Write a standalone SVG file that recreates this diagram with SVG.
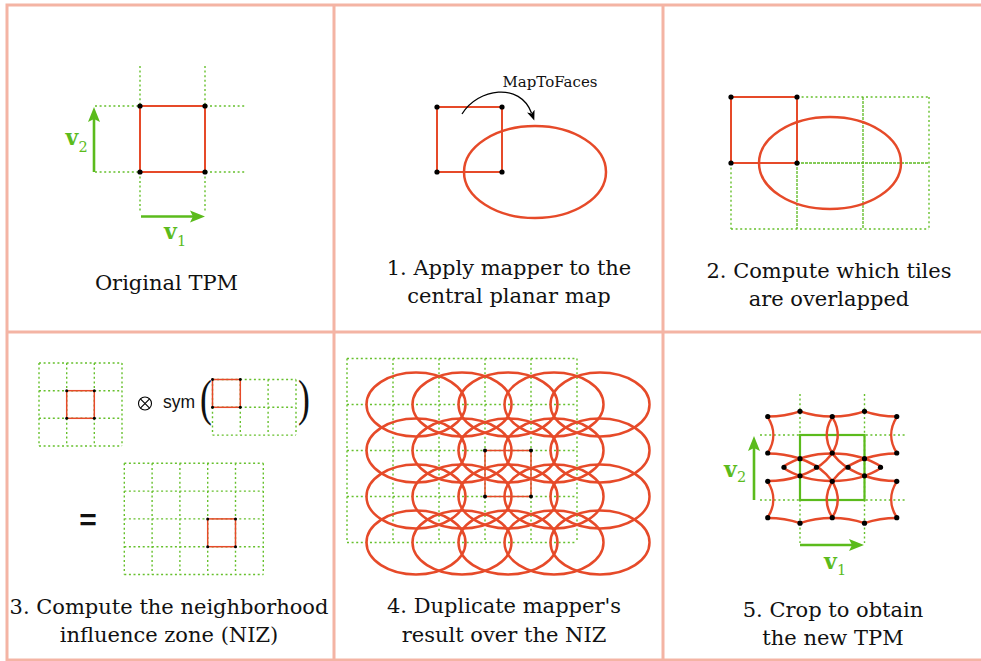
<svg xmlns="http://www.w3.org/2000/svg" width="981" height="661" viewBox="0 0 981 661">
<style>
.bd{fill:none;stroke:#f4b4a4;stroke-width:3}
.sq{fill:none;stroke:#e64a29;stroke-width:2}
.sqs{fill:none;stroke:#e64a29;stroke-width:1.5}
.ell{fill:none;stroke:#e64a29;stroke-width:2.5}
.dot{fill:#000}
.grid{fill:none;stroke:#66c02c;stroke-width:1.4;stroke-dasharray:2 2.6}
.gridd{fill:none;stroke:#5cb91f;stroke-width:1.3;stroke-dasharray:3 1}
.garrow{fill:none;stroke:#5bbb1c;stroke-width:2.6}
.gsq{fill:none;stroke:#5bbb1c;stroke-width:2.2}
.cap{font-family:"DejaVu Serif","Liberation Serif",serif;font-size:21px;fill:#111;text-anchor:middle}
.vb{font-family:"DejaVu Serif","Liberation Serif",serif;font-weight:bold;font-size:22px;fill:#5bbb1c}
.vs{font-family:"DejaVu Serif","Liberation Serif",serif;font-size:14.5px;fill:#5bbb1c}
.par{font-family:"Liberation Serif","DejaVu Serif",serif;font-size:51px;fill:#111}
</style>
<defs>
<marker id="gah" markerUnits="userSpaceOnUse" markerWidth="16" markerHeight="14" refX="4" refY="7" orient="auto" viewBox="0 0 16 14">
<path d="M0,1 L15,7 L0,13 L3,7 z" fill="#5bbb1c"/>
</marker>
<marker id="kah" markerUnits="userSpaceOnUse" markerWidth="11" markerHeight="9" refX="2" refY="4.5" orient="auto" viewBox="0 0 11 9">
<path d="M0,0.5 L10,4.5 L0,8.5 L2.5,4.5 z" fill="#000"/>
</marker>
</defs>
<rect width="981" height="661" fill="#fff"/>
<g id="frame">
<rect class="bd" x="7" y="5" width="980" height="655"/>
<line class="bd" x1="334" y1="5" x2="334" y2="660"/>
<line class="bd" x1="663" y1="5" x2="663" y2="660"/>
<line class="bd" x1="7" y1="332" x2="981" y2="332"/>
</g>

<g id="panel-original">
<path class="grid" d="M95 106H245M95 172H245M140 66V212M205 66V212"/>
<rect class="sq" x="140" y="106" width="65" height="66"/>
<circle class="dot" cx="140" cy="106" r="2.6"/><circle class="dot" cx="205" cy="106" r="2.6"/>
<circle class="dot" cx="140" cy="172" r="2.6"/><circle class="dot" cx="205" cy="172" r="2.6"/>
<line class="garrow" x1="94" y1="172" x2="94" y2="118" marker-end="url(#gah)"/>
<line class="garrow" x1="141" y1="216.5" x2="194" y2="216.5" marker-end="url(#gah)"/>
<text class="vb" x="65.5" y="145">v</text><text class="vs" x="78.5" y="152">2</text>
<text class="vb" x="164" y="239">v</text><text class="vs" x="177" y="246">1</text>
<text class="cap" x="166.5" y="290">Original TPM</text>
</g>

<g id="panel-apply">
<rect class="sq" x="437" y="107" width="65" height="65"/>
<ellipse class="ell" cx="535" cy="172" rx="71" ry="46"/>
<circle class="dot" cx="437" cy="107" r="2.6"/><circle class="dot" cx="502" cy="107" r="2.6"/>
<circle class="dot" cx="437" cy="172" r="2.6"/><circle class="dot" cx="502" cy="172" r="2.6"/>
<text x="550" y="87" style="font-family:'DejaVu Serif','Liberation Serif',serif;font-size:15px;fill:#111;text-anchor:middle">MapToFaces</text>
<text class="cap" x="509" y="275">1. Apply mapper to the</text>
<text class="cap" x="509" y="303">central planar map</text>
</g>

<g id="panel-tiles">
<path class="grid" d="M797 97H929M731 229H929M731 163V229M929 97V229"/>
<path class="gridd" d="M797 163H929M863 97V229M797 163V229"/>
<rect class="sq" x="731" y="97" width="66" height="66"/>
<ellipse class="ell" cx="830" cy="163" rx="71" ry="46"/>
<circle class="dot" cx="731" cy="97" r="2.6"/><circle class="dot" cx="797" cy="97" r="2.6"/>
<circle class="dot" cx="731" cy="163" r="2.6"/><circle class="dot" cx="797" cy="163" r="2.6"/>
<text class="cap" x="829" y="278">2. Compute which tiles</text>
<text class="cap" x="829" y="306">are overlapped</text>
</g>

<g id="panel-niz">
<path class="grid" d="M39 363H122M39 390.7H122M39 418.3H122M39 446H122M39 363V446M66.7 363V446M94.3 363V446M122 363V446"/>
<rect class="sqs" x="66.7" y="390.7" width="27.6" height="27.6"/>
<circle class="dot" cx="66.7" cy="390.7" r="1.5"/><circle class="dot" cx="94.3" cy="390.7" r="1.5"/>
<circle class="dot" cx="66.7" cy="418.3" r="1.5"/><circle class="dot" cx="94.3" cy="418.3" r="1.5"/>
<circle cx="145" cy="403.5" r="6.5" fill="none" stroke="#000" stroke-width="1.1"/>
<path d="M140.4 398.9L149.6 408.1M149.6 398.9L140.4 408.1" stroke="#000" stroke-width="1.1"/>
<text x="163" y="408" style="font-family:'Liberation Sans',Arial,sans-serif;font-size:17.5px;fill:#111">sym</text>
<text class="par" transform="translate(200 415) scale(0.7 1)">(</text>
<text class="par" transform="translate(298 415) scale(0.7 1)">)</text>
<path class="grid" d="M212.5 379.5H296M212.5 407.3H296M212.5 435.1H296M212.5 379.5V435.1M240.3 379.5V435.1M268.1 379.5V435.1M296 379.5V435.1"/>
<rect class="sqs" x="212.5" y="379.5" width="27.8" height="27.8"/>
<circle class="dot" cx="212.5" cy="379.5" r="1.4"/><circle class="dot" cx="240.3" cy="379.5" r="1.4"/>
<circle class="dot" cx="212.5" cy="407.3" r="1.5"/><circle class="dot" cx="240.3" cy="407.3" r="1.5"/>
<text x="88" y="530" style="font-family:'Liberation Sans',Arial,sans-serif;font-weight:bold;font-size:30px;fill:#111;text-anchor:middle">=</text>
<path class="grid" d="M124.3 463.3H263.3M124.3 491.1H263.3M124.3 518.9H263.3M124.3 546.7H263.3M124.3 574.5H263.3M124.3 463.3V574.5M152.1 463.3V574.5M179.9 463.3V574.5M207.7 463.3V574.5M235.5 463.3V574.5M263.3 463.3V574.5"/>
<rect class="sqs" x="207.7" y="518.9" width="27.8" height="27.8"/>
<circle class="dot" cx="207.7" cy="518.9" r="1.5"/><circle class="dot" cx="235.5" cy="518.9" r="1.5"/>
<circle class="dot" cx="207.7" cy="546.7" r="1.5"/><circle class="dot" cx="235.5" cy="546.7" r="1.5"/>
<text class="cap" x="169" y="614">3. Compute the neighborhood</text>
<text class="cap" x="169" y="642">influence zone (NIZ)</text>
</g>

<g id="panel-duplicate">
<path class="grid" d="M347 358.5H577M347 404.5H577M347 450.5H577M347 496.5H577M347 542.5H577M347 358.5V542.5M393 358.5V542.5M439 358.5V542.5M485 358.5V542.5M531 358.5V542.5M577 358.5V542.5"/>
<g class="ell">
<ellipse cx="416" cy="404.5" rx="49.5" ry="32"/><ellipse cx="462" cy="404.5" rx="49.5" ry="32"/><ellipse cx="508" cy="404.5" rx="49.5" ry="32"/><ellipse cx="554" cy="404.5" rx="49.5" ry="32"/><ellipse cx="600" cy="404.5" rx="49.5" ry="32"/>
<ellipse cx="416" cy="450.5" rx="49.5" ry="32"/><ellipse cx="462" cy="450.5" rx="49.5" ry="32"/><ellipse cx="508" cy="450.5" rx="49.5" ry="32"/><ellipse cx="554" cy="450.5" rx="49.5" ry="32"/><ellipse cx="600" cy="450.5" rx="49.5" ry="32"/>
<ellipse cx="416" cy="496.5" rx="49.5" ry="32"/><ellipse cx="462" cy="496.5" rx="49.5" ry="32"/><ellipse cx="508" cy="496.5" rx="49.5" ry="32"/><ellipse cx="554" cy="496.5" rx="49.5" ry="32"/><ellipse cx="600" cy="496.5" rx="49.5" ry="32"/>
<ellipse cx="416" cy="542.5" rx="49.5" ry="32"/><ellipse cx="462" cy="542.5" rx="49.5" ry="32"/><ellipse cx="508" cy="542.5" rx="49.5" ry="32"/><ellipse cx="554" cy="542.5" rx="49.5" ry="32"/><ellipse cx="600" cy="542.5" rx="49.5" ry="32"/>
</g>
<rect class="sqs" x="485" y="450.5" width="46" height="46"/>
<circle class="dot" cx="485" cy="450.5" r="2"/><circle class="dot" cx="531" cy="450.5" r="2"/>
<circle class="dot" cx="485" cy="496.5" r="2"/><circle class="dot" cx="531" cy="496.5" r="2"/>
<text class="cap" x="504" y="613">4. Duplicate mapper's</text>
<text class="cap" x="504" y="642">result over the NIZ</text>
</g>

<g id="panel-crop">
<path class="grid" d="M760 435H905M760 500H905M800 394V543M864.5 394V543"/>
<rect class="gsq" x="800" y="435" width="64.5" height="65"/>
<g class="ell">
<path d="M767.75 416.5A70 46 0 0 0 800 411.33A70 46 0 0 0 864.5 411.33A70 46 0 0 0 896.75 416.5"/>
<path d="M767.75 518A70 46 0 0 1 800 523.17A70 46 0 0 1 864.5 523.17A70 46 0 0 1 896.75 518"/>
<path d="M767.75 417.12A70 46 0 0 1 767.75 452.88M767.75 481.62A70 46 0 0 1 767.75 517.38"/>
<path d="M896.75 417.12A70 46 0 0 0 896.75 452.88M896.75 481.62A70 46 0 0 0 896.75 517.38"/>
<path d="M832.25 417.12A70 46 0 0 1 767.75 481"/>
<path d="M832.25 417.12A70 46 0 0 0 896.75 481"/>
<path d="M782.33 467.25A70 46 0 0 0 882.17 467.25"/>
<path d="M767.75 453.5A70 46 0 0 1 832.25 517.38"/>
<path d="M896.75 453.5A70 46 0 0 0 832.25 517.38"/>
<path d="M782.33 467.25A70 46 0 0 1 882.17 467.25"/>
</g>
<g class="dot">
<circle cx="767.75" cy="416.5" r="2.6"/><circle cx="800" cy="411.33" r="2.6"/><circle cx="832.25" cy="416.5" r="2.6"/><circle cx="864.5" cy="411.33" r="2.6"/><circle cx="896.75" cy="416.5" r="2.6"/>
<circle cx="767.75" cy="453" r="2.6"/><circle cx="800" cy="458.67" r="2.6"/><circle cx="832.25" cy="453" r="2.6"/><circle cx="864.5" cy="458.67" r="2.6"/><circle cx="896.75" cy="453" r="2.6"/>
<circle cx="784" cy="467.25" r="2.6"/><circle cx="816.5" cy="467.25" r="2.6"/><circle cx="848" cy="467.25" r="2.6"/><circle cx="880.5" cy="467.25" r="2.6"/>
<circle cx="767.75" cy="481.3" r="2.6"/><circle cx="800" cy="475.83" r="2.6"/><circle cx="832.25" cy="481.3" r="2.6"/><circle cx="864.5" cy="475.83" r="2.6"/><circle cx="896.75" cy="481.3" r="2.6"/>
<circle cx="767.75" cy="517.7" r="2.6"/><circle cx="800" cy="523.17" r="2.6"/><circle cx="832.25" cy="517.7" r="2.6"/><circle cx="864.5" cy="523.17" r="2.6"/><circle cx="896.75" cy="517.7" r="2.6"/>
</g>
<line class="garrow" x1="754" y1="500" x2="754" y2="447" marker-end="url(#gah)"/>
<line class="garrow" x1="800" y1="545" x2="853" y2="545" marker-end="url(#gah)"/>
<text class="vb" x="724" y="477">v</text><text class="vs" x="737" y="482">2</text>
<text class="vb" x="824" y="569">v</text><text class="vs" x="837" y="575">1</text>
<text class="cap" x="833" y="617">5. Crop to obtain</text>
<text class="cap" x="833" y="645">the new TPM</text>
</g>

<g id="connectors">
<path d="M462 114C478 88 520 82 531.5 113" fill="none" stroke="#000" stroke-width="1.3" marker-end="url(#kah)"/>
</g>
</svg>
